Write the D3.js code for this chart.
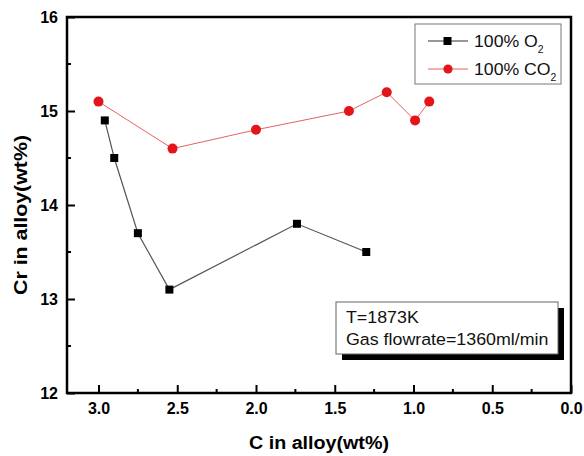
<!DOCTYPE html>
<meta charset="utf-8">
<script src="https://d3js.org/d3.v7.min.js"></script>
<style>
  body { margin: 0; background: #fff; }
  text { font-family: "Liberation Sans", Arial, sans-serif; }
</style>
<div id="chart"></div>
<script>
// data
const o2C  = [2.96, 2.90, 2.75, 2.55, 1.74, 1.30];
const o2Cr = [14.9, 14.5, 13.7, 13.1, 13.8, 13.5];
const co2C  = [3.00, 2.53, 2.00, 1.41, 1.17, 0.99, 0.90];
const co2Cr = [15.1, 14.6, 14.8, 15.0, 15.2, 14.9, 15.1];
const xTicks = [3.0, 2.5, 2.0, 1.5, 1.0, 0.5, 0.0];
const yTicks = [12, 13, 14, 15, 16];
const seriesNames = ["100% O", "100% CO"];
const noteLines = ["T=1873K", "Gas flowrate=1360ml/min"];

const W = 584, H = 456;
const margin = {top: 17, right: 13, bottom: 63, left: 67};
const width = W - margin.left - margin.right,
      height = H - margin.top - margin.bottom;

const svg = d3.select("#chart").append("svg")
  .attr("width", W).attr("height", H);
const g = svg.append("g")
  .attr("transform", `translate(${margin.left},${margin.top})`);

const x = d3.scaleLinear().domain([3.2, 0]).range([0, width]);
const y = d3.scaleLinear().domain([12, 16]).range([height, 0]);

// text that is a bit wider than plain Arial, like in the figure
function wideText(parent, px, py, size, sx, str) {
  return parent.append("text")
    .attr("transform", `translate(${px},${py}) scale(${sx},1)`)
    .attr("font-size", size).attr("fill", "#111").text(str);
}

// minor ticks
const xMinor = d3.range(0.25, 3.2, 0.5);
const yMinor = d3.range(12.5, 16, 1);

// bottom axis, ticks point inward
const xAxis = g.append("g").attr("transform", `translate(0,${height})`)
  .call(d3.axisBottom(x).tickValues(xTicks).tickFormat(d3.format(".1f"))
    .tickSizeInner(-8).tickSizeOuter(0).tickPadding(10));
xAxis.select(".domain").remove();
xAxis.selectAll("line").attr("stroke-width", 2);
xAxis.selectAll("text").attr("font-size", 16).attr("font-weight", "bold").attr("fill", "#000");
g.append("g").attr("transform", `translate(0,${height})`)
  .selectAll("line").data(xMinor).join("line")
  .attr("x1", d => x(d)).attr("x2", d => x(d))
  .attr("y1", 0).attr("y2", -4).attr("stroke", "#000").attr("stroke-width", 2);

const yAxis = g.append("g")
  .call(d3.axisLeft(y).tickValues(yTicks).tickFormat(d3.format("d"))
    .tickSizeInner(-8).tickSizeOuter(0).tickPadding(9));
yAxis.select(".domain").remove();
yAxis.selectAll("line").attr("stroke-width", 2);
yAxis.selectAll("text").attr("font-size", 16).attr("font-weight", "bold").attr("fill", "#000");
g.append("g").selectAll("line").data(yMinor).join("line")
  .attr("x1", 0).attr("x2", 4)
  .attr("y1", d => y(d)).attr("y2", d => y(d)).attr("stroke", "#000").attr("stroke-width", 2);

// frame
g.append("rect").attr("width", width).attr("height", height)
  .attr("fill", "none").attr("stroke", "#000").attr("stroke-width", 2.5);

// axis titles
svg.append("text").attr("x", margin.left + width / 2).attr("y", 449)
  .attr("text-anchor", "middle").attr("font-size", 18).attr("font-weight", "bold")
  .attr("textLength", 140).attr("lengthAdjust", "spacingAndGlyphs")
  .text("C in alloy(wt%)");
svg.append("text")
  .attr("transform", `translate(27,215) rotate(-90)`)
  .attr("text-anchor", "middle").attr("font-size", 19).attr("font-weight", "bold")
  .attr("textLength", 160).attr("lengthAdjust", "spacingAndGlyphs")
  .text("Cr in alloy(wt%)");

// series
const red = "#e3151b";
const o2 = o2C.map((c, i) => ({c, cr: o2Cr[i]}));
const co2 = co2C.map((c, i) => ({c, cr: co2Cr[i]}));
const line = d3.line().x(d => x(d.c)).y(d => y(d.cr));

g.append("path").datum(co2).attr("d", line)
  .attr("fill", "none").attr("stroke", "#e8615f").attr("stroke-width", 1);
g.append("path").datum(o2).attr("d", line)
  .attr("fill", "none").attr("stroke", "#555").attr("stroke-width", 1.2);

g.selectAll(".sq").data(o2).join("rect").attr("class", "sq")
  .attr("x", d => x(d.c) - 4).attr("y", d => y(d.cr) - 4)
  .attr("width", 8).attr("height", 8).attr("fill", "#000");
g.selectAll(".dot").data(co2).join("circle").attr("class", "dot")
  .attr("cx", d => x(d.c)).attr("cy", d => y(d.cr)).attr("r", 5)
  .attr("fill", red);

// legend
const lg = svg.append("g");
lg.append("rect").attr("x", 415).attr("y", 24).attr("width", 146).attr("height", 60)
  .attr("fill", "#fff").attr("stroke", "#777").attr("stroke-width", 1);
seriesNames.forEach((name, i) => {
  const ly = 41 + i * 28;
  lg.append("line").attr("x1", 428).attr("x2", 468).attr("y1", ly).attr("y2", ly)
    .attr("stroke", i === 0 ? "#333" : "#e8615f").attr("stroke-width", 1.2);
  if (i === 0) {
    lg.append("rect").attr("x", 443.5).attr("y", ly - 4).attr("width", 8).attr("height", 8).attr("fill", "#000");
  } else {
    lg.append("circle").attr("cx", 448).attr("cy", ly).attr("r", 4.6).attr("fill", red);
  }
  const t = wideText(lg, 474, ly + 6, 17, 1.04, null);
  t.append("tspan").text(name);
  t.append("tspan").attr("font-size", 10).attr("dy", 6).text("2");
});

// condition box with shadow
const nb = svg.append("g");
nb.append("rect").attr("x", 342).attr("y", 308).attr("width", 222).attr("height", 52).attr("fill", "#000");
nb.append("rect").attr("x", 336).attr("y", 302).attr("width", 222).attr("height", 52)
  .attr("fill", "#fff").attr("stroke", "#666").attr("stroke-width", 1);
noteLines.forEach((s, i) => wideText(nb, 346, 323 + i * 22, 16.5, 1.08, s));
</script>
